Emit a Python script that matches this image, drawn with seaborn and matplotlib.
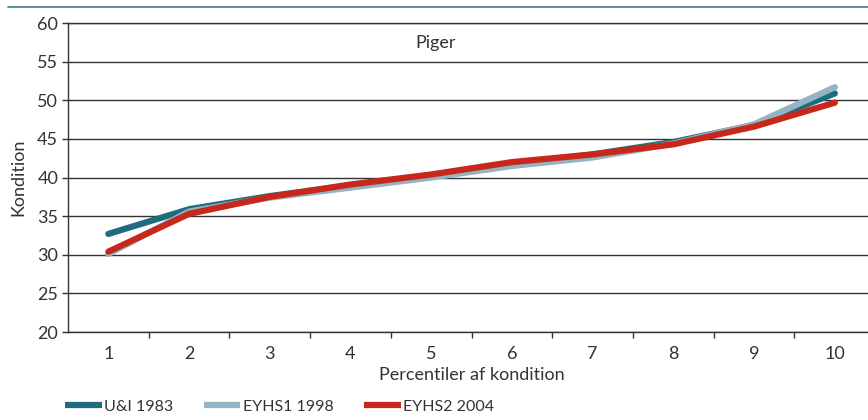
import pandas as pd
import matplotlib.pyplot as plt
import seaborn as sns
from matplotlib.lines import Line2D

# Data
percentiles = list(range(1, 11))
ui_1983 = [32.7, 35.9, 37.6, 39.0, 40.3, 41.7, 43.0, 44.6, 46.8, 50.9]
eyhs1_1998 = [30.1, 35.6, 37.4, 38.7, 40.0, 41.5, 42.6, 44.4, 46.9, 51.7]
eyhs2_2004 = [30.4, 35.3, 37.5, 39.1, 40.4, 42.0, 43.0, 44.3, 46.6, 49.7]
series_names = ["U&I 1983", "EYHS1 1998", "EYHS2 2004"]
y_ticks = [20, 25, 30, 35, 40, 45, 50, 55, 60]

df = pd.DataFrame({
    "percentil": percentiles * 3,
    "kondition": ui_1983 + eyhs1_1998 + eyhs2_2004,
    "serie": [s for s in series_names for _ in percentiles],
})

sns.set_theme(style="white")
plt.rcParams["font.family"] = ["Lato", "DejaVu Sans"]
text_col = "#333333"
fs = 13

fig = plt.figure(figsize=(8.68, 4.2), dpi=100)
ax = fig.add_axes([0.0783, 0.2095, 0.930, 0.7355])

palette = {"U&I 1983": "#1f6b80", "EYHS1 1998": "#94b3c3", "EYHS2 2004": "#c8281b"}
sns.lineplot(data=df, x="percentil", y="kondition", hue="serie", palette=palette,
             linewidth=4.5, ax=ax, legend=True)

ax.set_xlim(0.5, 10.5)
ax.set_ylim(20, 60)
ax.set_yticks(y_ticks)
ax.set_xticks(percentiles)
ax.set_xticks([p + 0.5 for p in percentiles[:-1]], minor=True)
ax.tick_params(axis="x", which="major", length=0, pad=10, labelsize=fs, colors=text_col)
ax.tick_params(axis="x", which="minor", length=4, width=1, color="#333333", direction="out", bottom=True)
ax.tick_params(axis="y", length=4, width=1, color="#333333", direction="out", left=True,
               pad=3, labelsize=fs, labelcolor=text_col)
ax.yaxis.grid(True, color="#333333", linewidth=1.0)
ax.xaxis.grid(False)
for side in ["left", "bottom", "top"]:
    ax.spines[side].set_color("#333333")
    ax.spines[side].set_linewidth(1.0)
ax.spines["right"].set_visible(False)

ax.set_xlabel("Percentiler af kondition", fontsize=fs, color=text_col, labelpad=4)
ax.set_ylabel("Kondition", fontsize=fs, color=text_col, labelpad=8)
ax.text(5.05, 57.4, "Piger", ha="center", va="center", fontsize=fs, color=text_col)

handles, labels = ax.get_legend_handles_labels()
leg = ax.legend(handles, labels, loc="center left", bbox_to_anchor=(0.075, 0.031),
                bbox_transform=fig.transFigure, ncol=3, frameon=False, fontsize=11.5,
                handlelength=2.3, handletextpad=0.15, columnspacing=1.9, borderaxespad=0,
                borderpad=0, labelcolor=text_col)
for h in leg.get_lines():
    h.set_solid_capstyle("butt")

# round ends on the data lines only
for ln in ax.get_lines():
    ln.set_solid_capstyle("round")

fig.add_artist(Line2D([0.009, 1.0], [0.983, 0.983], transform=fig.transFigure,
                      color="#4a8898", linewidth=1.3))

fig.savefig("out.png", dpi=100)
